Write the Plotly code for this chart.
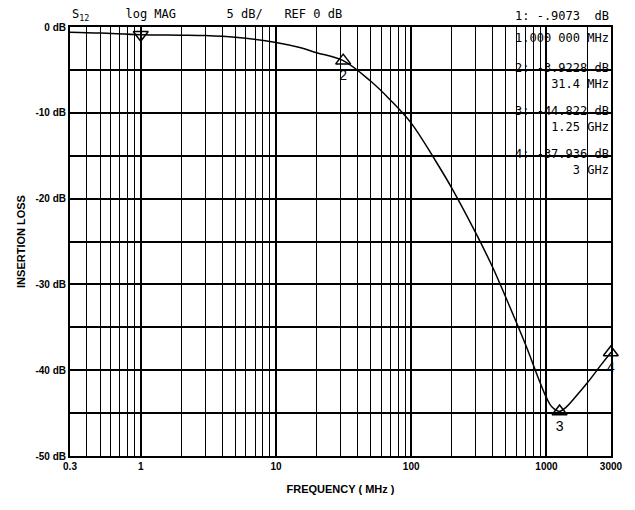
import plotly.graph_objects as go

freq = [0.3, 0.5, 1, 2, 3, 5, 10, 15, 20, 31.4, 50, 70, 100, 150, 200, 300, 400, 500, 700, 900, 1000, 1100, 1250, 1400, 1600, 2000, 2500, 3000]
loss = [-0.6, -0.7, -0.9, -0.95, -1.0, -1.2, -1.8, -2.4, -3.0, -3.92, -6.3, -8.5, -11.2, -15.5, -18.8, -24.0, -28.0, -31.5, -37.0, -41.5, -43.2, -44.3, -44.8, -44.3, -43.3, -41.5, -39.5, -37.9]
mk_f = [31.4, 1250, 2990]
mk_v = [-3.92, -44.82, -37.94]
mk_lab = ["2", "3", "4"]
ytick_vals = [0, -10, -20, -30, -40, -50]
ytick_text = ["0 dB", "-10 dB", "-20 dB", "-30 dB", "-40 dB", "-50 dB"]
xtick_vals = [0.3, 1, 10, 100, 1000, 3000]
xtick_text = ["0.3", "1", "10", "100", "1000", "3000"]

fig = go.Figure()
fig.add_trace(go.Scatter(x=freq, y=loss, mode="lines", line=dict(color="black", width=1.5, shape="spline"), showlegend=False))
fig.add_trace(go.Scatter(x=mk_f, y=mk_v, mode="markers+text", text=mk_lab, textposition="bottom center", cliponaxis=False,
                         marker=dict(symbol="triangle-up-open", size=13, color="black", line=dict(width=1.5)),
                         textfont=dict(family="Liberation Sans", size=14, color="black"), showlegend=False))
fig.add_trace(go.Scatter(x=[1], y=[-0.9], mode="markers", cliponaxis=False,
                         marker=dict(symbol="triangle-down-open", size=13, color="black", line=dict(width=1.5)), showlegend=False))

fig.update_layout(
    width=627, height=502, paper_bgcolor="white", plot_bgcolor="white",
    margin=dict(l=62, r=19, t=19, b=54),
    font=dict(family="Liberation Sans", color="black", size=11),
    xaxis=dict(type="log", range=[-0.5229, 3.4772], tickvals=xtick_vals,
               ticktext=["<b>%s</b>" % t for t in xtick_text],
               showgrid=True, gridcolor="black", gridwidth=1.5, ticks="",
               minor=dict(showgrid=True, gridcolor="black", gridwidth=1.2, dtick="D1"),
               showline=True, linecolor="black", linewidth=2, mirror=True,
               title=dict(text="<b>FREQUENCY ( MHz )</b>", font=dict(size=11), standoff=14),
               tickfont=dict(size=10, family="Liberation Sans"), zeroline=False),
    yaxis=dict(range=[-50, 0], tickvals=ytick_vals, ticktext=["<b>%s</b>" % t for t in ytick_text],
               showgrid=True, gridcolor="black", gridwidth=1.5, ticks="",
               minor=dict(showgrid=True, gridcolor="black", gridwidth=1.5, dtick=5),
               showline=True, linecolor="black", linewidth=2, mirror=True, zeroline=False,
               title=dict(text="<b>INSERTION LOSS</b>", font=dict(size=11), standoff=8),
               tickfont=dict(size=10)),
)

mono = "DejaVu Sans Mono"
fig.add_annotation(xref="paper", yref="paper", x=0.0, y=1.0, yshift=2, text="S<sub>12</sub>     log MAG       5 dB/   REF 0 dB",
                   showarrow=False, xanchor="left", yanchor="bottom", font=dict(family=mono, size=12, color="black"))
fig.add_annotation(xref="paper", yref="paper", x=1.0, y=1.0, yshift=2, text="1: -.9073  dB",
                   showarrow=False, xanchor="right", yanchor="bottom", font=dict(family=mono, size=12, color="black"))
ann = [
    (0.975, "1.000 000 MHz"),
    (0.885, "2: -3.9228 dB<br>31.4 MHz"),
    (0.785, "3: -44.822 dB<br>1.25 GHz"),
    (0.685, "4: -37.936 dB<br>3 GHz"),
]
for y, t in ann:
    fig.add_annotation(xref="paper", yref="paper", x=1.0, y=y, text=t, showarrow=False, xanchor="right",
                       yanchor="middle", align="right", font=dict(family=mono, size=12, color="black"))

fig.write_html("out.html")
